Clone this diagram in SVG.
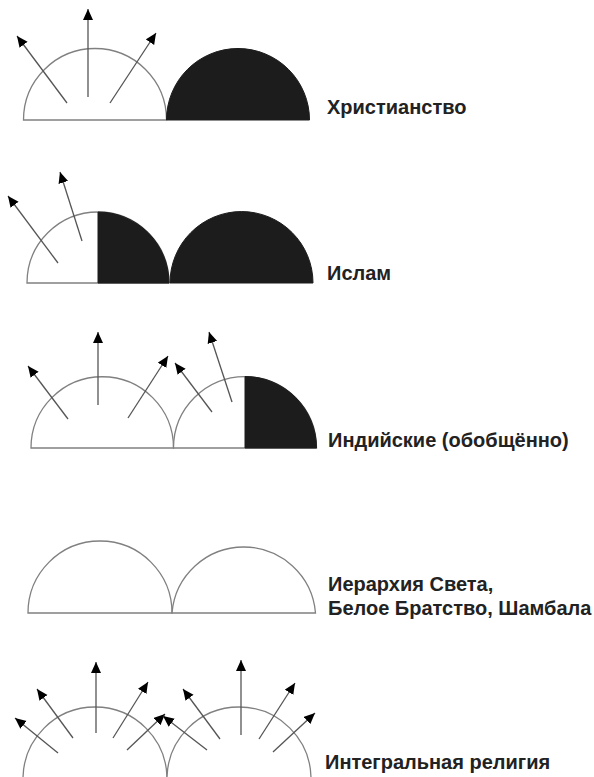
<svg xmlns="http://www.w3.org/2000/svg" width="594" height="777" viewBox="0 0 594 777">
<defs>
<style>
.out{fill:#fff;stroke:#808080;stroke-width:1.3}
.blk{fill:#1c1c1c;stroke:#1c1c1c;stroke-width:1}
.arr{stroke:#555;stroke-width:1.3;fill:none;marker-end:url(#ah)}
.lbl{font-family:"Liberation Sans",Arial,sans-serif;font-weight:bold;font-size:20px;fill:#222}
</style>
<marker id="ah" markerUnits="userSpaceOnUse" markerWidth="12" markerHeight="11" refX="11" refY="5" orient="auto" viewBox="0 0 12 11">
<path d="M0,0 L11,5 L0,10 Z" fill="#000"/>
</marker>
</defs>
<rect width="594" height="777" fill="#fff"/>

<g id="row1-white"><path class="out" d="M23.5,120 A71.5,71.5 0 0 1 166.5,120 Z"/></g>
<g id="row1-black"><path class="blk" d="M166.5,120 A71.5,71.5 0 0 1 309.5,120 Z"/></g>

<g id="row2-left"><path class="out" d="M27,283 A71,71 0 0 1 169,283 Z"/><path class="blk" d="M98,283 L98,212 A71,71 0 0 1 169,283 Z"/></g>
<g id="row2-right"><path class="blk" d="M170,283 A71.5,71.5 0 0 1 313,283 Z"/></g>

<g id="row3-left"><path class="out" d="M31,448 A71.25,71.25 0 0 1 173.5,448 Z"/></g>
<g id="row3-right"><path class="out" d="M173.5,448 A71.5,71.5 0 0 1 316.5,448 Z"/><path class="blk" d="M245,448 L245,376.5 A71.5,71.5 0 0 1 316.5,448 Z"/></g>

<g id="row4-left"><path class="out" d="M28,613 A72,72 0 0 1 172,613 Z"/></g>
<g id="row4-right"><path class="out" d="M172,613 A72,72 0 0 1 315.5,613 Z"/></g>

<g id="row5-left"><path class="out" d="M23,779 A72,72 0 0 1 167,779 Z"/></g>
<g id="row5-right"><path class="out" d="M167,779 A72,72 0 0 1 311,779 Z"/></g>

<g id="connectors">
<line class="arr" x1="67" y1="103" x2="17" y2="36"/>
<line class="arr" x1="88" y1="97" x2="88" y2="9"/>
<line class="arr" x1="110" y1="103" x2="156" y2="33"/>

<line class="arr" x1="58" y1="263" x2="8" y2="196"/>
<line class="arr" x1="82" y1="241" x2="60" y2="172"/>

<line class="arr" x1="68" y1="419" x2="28" y2="366"/>
<line class="arr" x1="98" y1="405" x2="98" y2="332"/>
<line class="arr" x1="128" y1="418" x2="168" y2="356"/>
<line class="arr" x1="212" y1="412" x2="175" y2="363"/>
<line class="arr" x1="232" y1="402" x2="209" y2="332"/>

<line class="arr" x1="58" y1="753" x2="15" y2="718"/>
<line class="arr" x1="73" y1="738" x2="37" y2="689"/>
<line class="arr" x1="96" y1="733" x2="96" y2="662"/>
<line class="arr" x1="113" y1="738" x2="148" y2="682"/>
<line class="arr" x1="127" y1="750" x2="165" y2="714"/>
<line class="arr" x1="207" y1="750" x2="163" y2="716"/>
<line class="arr" x1="220" y1="739" x2="183" y2="689"/>
<line class="arr" x1="241" y1="735" x2="241" y2="660"/>
<line class="arr" x1="259" y1="739" x2="295" y2="683"/>
<line class="arr" x1="273" y1="752" x2="315" y2="713"/>
</g>

<g id="labels">
<text class="lbl" x="327" y="114">Христианство</text>
<text class="lbl" x="327" y="280">Ислам</text>
<text class="lbl" x="328" y="447">Индийские (обобщённо)</text>
<text class="lbl" x="328" y="591">Иерархия Света,</text>
<text class="lbl" x="328" y="615">Белое Братство, Шамбала</text>
<text class="lbl" x="325" y="769">Интегральная религия</text>
</g>
</svg>
